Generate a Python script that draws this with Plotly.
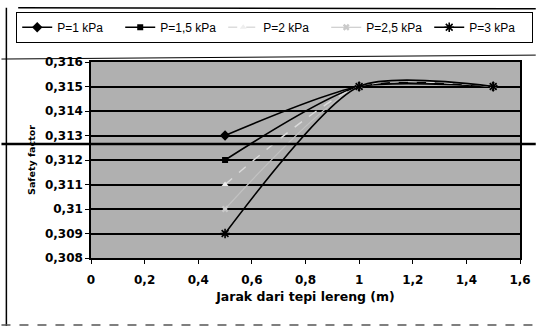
import plotly.graph_objects as go

# ---- data ----
jarak = [0.5, 1.0, 1.5]
p1 = [0.313, 0.315, 0.315]
p15 = [0.312, 0.315, 0.315]
p2 = [0.311, 0.315, 0.315]
p25 = [0.310, 0.315, 0.315]
p3 = [0.309, 0.315, 0.315]
series_names = ["P=1 kPa", "P=1,5 kPa", "P=2 kPa", "P=2,5 kPa", "P=3 kPa"]

y_tickvals = [0.308, 0.309, 0.310, 0.311, 0.312, 0.313, 0.314, 0.315, 0.316]
y_ticktext = ["0,308", "0,309", "0,31", "0,311", "0,312", "0,313", "0,314", "0,315", "0,316"]
x_tickvals = [0, 0.2, 0.4, 0.6, 0.8, 1.0, 1.2, 1.4, 1.6]
x_ticktext = ["0", "0,2", "0,4", "0,6", "0,8", "1", "1,2", "1,4", "1,6"]

# scan artefact level (thick line crossing the page)
artefact_level = 0.31265

styles = [
    dict(line=dict(color="black", width=1.6), marker=dict(symbol="diamond", size=8, color="black")),
    dict(line=dict(color="black", width=1.6), marker=dict(symbol="square", size=6, color="black")),
    dict(line=dict(color="#dcdcdc", width=1.4, dash="dash"), marker=dict(symbol="triangle-up", size=6, color="#eeeeee")),
    dict(line=dict(color="#c2c2c2", width=1.2), marker=dict(symbol="x", size=6, color="#cacaca")),
    dict(line=dict(color="black", width=1.6), marker=dict(symbol="asterisk-open", size=8, color="black", line=dict(width=1.6, color="black"))),
]

fig = go.Figure()
for name, vals, st in zip(series_names, [p1, p15, p2, p25, p3], styles):
    fig.add_trace(go.Scatter(
        x=jarak, y=vals, name=name, mode="lines+markers",
        line=dict(shape="spline", smoothing=0.7, **st["line"]),
        marker=st["marker"],
    ))

L, R, T, B = 91, 16, 59, 69
W, H = 543, 327
pw, ph = W - L - R, H - T - B
def px(X):
    return (X - L) / pw
def py(Y):
    return (H - B - Y) / ph

fig.update_layout(
    width=W, height=H,
    margin=dict(l=L, r=R, t=T, b=B),
    paper_bgcolor="white",
    plot_bgcolor="#b0b0b0",
    font=dict(family="Liberation Sans, Arial", color="black"),
    showlegend=True,
    legend=dict(
        orientation="h", x=px(15), y=py(8), xanchor="left", yanchor="top",
        bordercolor="black", borderwidth=1, bgcolor="white",
        font=dict(size=12, family="Liberation Sans, Arial", color="black"),
        entrywidth=58, entrywidthmode="pixels", itemwidth=30,
    ),
    xaxis=dict(
        range=[0, 1.6], tickvals=x_tickvals, ticktext=x_ticktext,
        ticks="outside", ticklen=4, tickcolor="black", tickwidth=1,
        ticklabelstandoff=6,
        showgrid=False, zeroline=False,
        showline=True, linecolor="black", linewidth=1.5, mirror=True,
        tickfont=dict(family="DejaVu Sans", size=12, weight="bold"),
        title=dict(text="Jarak dari tepi lereng (m)", standoff=6,
                   font=dict(family="DejaVu Sans", size=12.5, weight="bold")),
    ),
    yaxis=dict(
        range=[0.308, 0.316], tickvals=y_tickvals, ticktext=y_ticktext,
        ticks="outside", ticklen=4, tickcolor="black", tickwidth=1,
        showgrid=True, gridcolor="black", gridwidth=1.5, zeroline=False,
        showline=True, linecolor="black", linewidth=1.5, mirror=True,
        tickfont=dict(family="DejaVu Sans", size=12, weight="bold"),
        title=dict(text="Safety factor", standoff=8,
                   font=dict(family="DejaVu Sans", size=9.5, weight="bold")),
    ),
)

shapes = [
    # chart outer border (scanned)
    dict(type="line", xref="paper", yref="paper", x0=px(17), x1=px(543), y0=py(4), y1=py(5),
         line=dict(color="black", width=1.5)),
    dict(type="line", xref="paper", yref="paper", x0=px(5), x1=px(5), y0=py(4), y1=py(327),
         line=dict(color="black", width=1.5)),
    dict(type="line", xref="paper", yref="paper", x0=px(0), x1=px(543), y0=py(56), y1=py(52),
         line=dict(color="black", width=1)),
    dict(type="line", xref="paper", yref="paper", x0=px(0), x1=px(543), y0=py(326), y1=py(326),
         line=dict(color="#555555", width=1.5, dash="dash")),
    # thick horizontal scan artefact
    dict(type="line", xref="paper", yref="y", x0=px(0), x1=px(543), y0=artefact_level, y1=artefact_level,
         line=dict(color="black", width=2.5)),
]
fig.update_layout(shapes=shapes)

fig.write_html("out.html")
